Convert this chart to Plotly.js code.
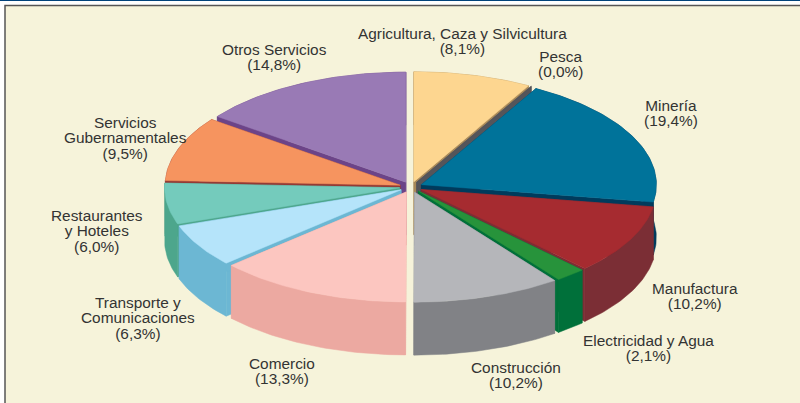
<!DOCTYPE html>
<html><head><meta charset="utf-8">
<script src="https://cdn.plot.ly/plotly-3.0.1.min.js"></script>
<style>html,body{margin:0;padding:0;background:#fff}#c{width:800px;height:403px}</style>
</head><body><div id="c"></div>
<script>
const categories=["Agricultura, Caza y Silvicultura","Pesca","Minería","Manufactura","Electricidad y Agua","Construcción","Comercio","Transporte y Comunicaciones","Restaurantes y Hoteles","Servicios Gubernamentales","Otros Servicios"];
const values=[8.1,0.0,19.4,10.2,2.1,10.2,13.3,6.3,6.0,9.5,14.8];
const labelLines=[["Agricultura, Caza y Silvicultura"],["Pesca"],["Minería"],["Manufactura"],["Electricidad y Agua"],["Construcción"],["Comercio"],["Transporte y","Comunicaciones"],["Restaurantes","y Hoteles"],["Servicios","Gubernamentales"],["Otros Servicios"]];
const labelX=[462,560,671,695,648,516,282,138,97,125,274];
const labelY=[33,56,105,288,340,367,363,302,215,122,49];
const topColors=["#fdd690","#6b6b6b","#00739a","#a62b30","#27933b","#b5b6ba","#fcc6c0","#b5e4fa","#74cbbc","#f6945f","#997ab5"];
const wallColors=["#a98a5a","#55555a","#003b5c","#7b2e35","#00703a","#818286","#eca9a1","#6cb7d3","#4da68c","#943a35","#6c4488"];
const cx=411,cy=187,rx=235,ry=110,depth=53,explode=11.5,squash=0.47,fontSize=15.4,lineGap=15.3;
const total=values.reduce((a,b)=>a+b,0);
function pt(theta,off,dz){return [cx+rx*Math.sin(theta)+off[0],cy-ry*Math.cos(theta)+off[1]+dz];}
const slices=[];let acc=0;
values.forEach((v,i)=>{const a0=acc/total*2*Math.PI;acc+=v;const a1=acc/total*2*Math.PI;const m=(a0+a1)/2;
 slices.push({i,a0,a1,m,off:[explode*Math.sin(m),-explode*squash*Math.cos(m)]});});
const traces=[];
function poly(pts,color){traces.push({type:"scatter",mode:"lines",x:pts.map(p=>p[0]),y:pts.map(p=>p[1]),fill:"toself",fillcolor:color,line:{color:color,width:0.5},hoverinfo:"skip",showlegend:false});}
function arc(s,dz,rev){const n=Math.max(1,Math.ceil((s.a1-s.a0)/(Math.PI/180)));const r=[];for(let k=0;k<=n;k++){r.push(pt(s.a0+(s.a1-s.a0)*k/n,s.off,dz));}return rev?r.reverse():r;}
slices.slice().sort((a,b)=>Math.cos(b.m)-Math.cos(a.m)).forEach(s=>{
 const w=wallColors[s.i],c=[cx+s.off[0],cy+s.off[1]];
 [s.a0,s.a1].forEach(a=>{const p=pt(a,s.off,0),q=pt(a,s.off,depth);poly([c,p,q,[c[0],c[1]+depth],c],w);});
 if(s.a1>s.a0+1e-6){const t=arc(s,0,false),b=arc(s,depth,true);poly(t.concat(b).concat([t[0]]),w);
  const top=[c].concat(arc(s,0,false)).concat([c]);poly(top,topColors[s.i]);}
});
const annotations=slices.map(s=>{
 const lines=labelLines[s.i].concat(["("+values[s.i].toFixed(1).replace(".",",")+"%)"]);
 return {x:labelX[s.i],y:labelY[s.i]+(lines.length-1)*fontSize*0.65,xref:"x",yref:"y",showarrow:false,align:"center",
  text:lines.join("<br>"),font:{family:"Liberation Sans, Arial, sans-serif",size:fontSize,color:"#333333"}};
});
const layout={width:800,height:403,margin:{l:0,r:0,t:0,b:0},paper_bgcolor:"#ffffff",plot_bgcolor:"#ffffff",showlegend:false,
 xaxis:{range:[0,800],visible:false,fixedrange:true},yaxis:{range:[403,0],visible:false,fixedrange:true},
 annotations,
 shapes:[
  {type:"rect",layer:"below",xref:"x",yref:"y",x0:5,y0:5.5,x1:810,y1:415,fillcolor:"#f6f3da",line:{color:"#555555",width:1.5}},
  {type:"rect",layer:"below",xref:"x",yref:"y",x0:0,y0:0,x1:800,y1:1,fillcolor:"#00427a",line:{width:0}}
 ]};
Plotly.newPlot("c",traces,layout,{staticPlot:true,displayModeBar:false}).then(()=>{
 document.querySelectorAll("#c .annotation-text").forEach(t=>{
  t.querySelectorAll("tspan.line").forEach((ts,k)=>ts.setAttribute("dy",(k*lineGap)+"px"));
 });
});
</script></body></html>
